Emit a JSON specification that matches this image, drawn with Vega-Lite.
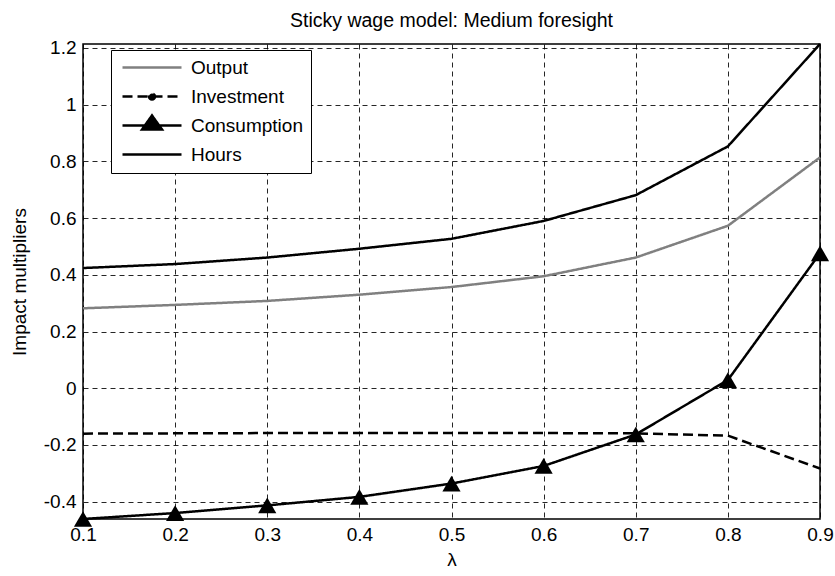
{
  "$schema": "https://vega.github.io/schema/vega-lite/v6.json",
  "width": 737,
  "height": 475,
  "autosize": {"type": "none"},
  "padding": {"left": 83, "top": 44, "right": 15, "bottom": 57},
  "background": "white",
  "title": {"text": "Sticky wage model: Medium foresight", "fontSize": 19.5, "fontWeight": "normal", "font": "Liberation Sans", "color": "black", "anchor": "middle", "frame": "group", "baseline": "alphabetic", "offset": -8},
  "config": {
    "view": {"stroke": "black", "strokeWidth": 1.5},
    "font": "Liberation Sans",
    "axis": {"labelFont": "Liberation Sans", "titleFont": "Liberation Sans", "labelFontSize": 19, "titleFontSize": 19, "titleFontWeight": "normal", "labelColor": "black", "titleColor": "black", "domain": false, "ticks": false, "grid": true, "gridColor": "#000", "gridDash": [5, 4], "gridWidth": 1, "gridOpacity": 0.85}
  },
  "data": {
    "values": [
      {"lambda": 0.1, "series": "Output", "value": 0.282},
      {"lambda": 0.2, "series": "Output", "value": 0.294},
      {"lambda": 0.3, "series": "Output", "value": 0.308},
      {"lambda": 0.4, "series": "Output", "value": 0.330},
      {"lambda": 0.5, "series": "Output", "value": 0.357},
      {"lambda": 0.6, "series": "Output", "value": 0.395},
      {"lambda": 0.7, "series": "Output", "value": 0.461},
      {"lambda": 0.8, "series": "Output", "value": 0.573},
      {"lambda": 0.9, "series": "Output", "value": 0.814},
      {"lambda": 0.1, "series": "Investment", "value": -0.160},
      {"lambda": 0.2, "series": "Investment", "value": -0.159},
      {"lambda": 0.3, "series": "Investment", "value": -0.158},
      {"lambda": 0.4, "series": "Investment", "value": -0.158},
      {"lambda": 0.5, "series": "Investment", "value": -0.158},
      {"lambda": 0.6, "series": "Investment", "value": -0.158},
      {"lambda": 0.7, "series": "Investment", "value": -0.159},
      {"lambda": 0.8, "series": "Investment", "value": -0.167},
      {"lambda": 0.9, "series": "Investment", "value": -0.283},
      {"lambda": 0.1, "series": "Consumption", "value": -0.461},
      {"lambda": 0.2, "series": "Consumption", "value": -0.440},
      {"lambda": 0.3, "series": "Consumption", "value": -0.413},
      {"lambda": 0.4, "series": "Consumption", "value": -0.383},
      {"lambda": 0.5, "series": "Consumption", "value": -0.336},
      {"lambda": 0.6, "series": "Consumption", "value": -0.274},
      {"lambda": 0.7, "series": "Consumption", "value": -0.163},
      {"lambda": 0.8, "series": "Consumption", "value": 0.029},
      {"lambda": 0.9, "series": "Consumption", "value": 0.476},
      {"lambda": 0.1, "series": "Hours", "value": 0.424},
      {"lambda": 0.2, "series": "Hours", "value": 0.438},
      {"lambda": 0.3, "series": "Hours", "value": 0.461},
      {"lambda": 0.4, "series": "Hours", "value": 0.492},
      {"lambda": 0.5, "series": "Hours", "value": 0.527},
      {"lambda": 0.6, "series": "Hours", "value": 0.590},
      {"lambda": 0.7, "series": "Hours", "value": 0.681},
      {"lambda": 0.8, "series": "Hours", "value": 0.853},
      {"lambda": 0.9, "series": "Hours", "value": 1.214}
    ]
  },
  "encoding": {
    "x": {"field": "lambda", "type": "quantitative", "title": "λ",
      "scale": {"domain": [0.1, 0.9], "nice": false, "zero": false},
      "axis": {"values": [0.1, 0.2, 0.3, 0.4, 0.5, 0.6, 0.7, 0.8, 0.9], "labelExpr": "'' + datum.value", "labelPadding": 6, "titlePadding": 6, "labelFlush": false}},
    "y": {"field": "value", "type": "quantitative", "title": "Impact multipliers",
      "scale": {"domain": [-0.461, 1.214], "nice": false, "zero": false},
      "axis": {"values": [-0.4, -0.2, 0, 0.2, 0.4, 0.6, 0.8, 1, 1.2], "labelExpr": "'' + datum.value", "labelPadding": 7, "titlePadding": 14, "labelFlush": false}}
  },
  "layer": [
    {
      "mark": {"type": "line", "strokeWidth": 2.5, "clip": false},
      "encoding": {
        "color": {"field": "series", "type": "nominal",
          "scale": {"domain": ["Output", "Investment", "Consumption", "Hours"], "range": ["#808080", "#000000", "#000000", "#000000"]},
          "legend": {"title": null, "orient": "none", "legendX": 28, "legendY": 6, "padding": 8, "rowPadding": 3, "strokeColor": "black", "fillColor": "white", "labelFontSize": 19, "labelFont": "Liberation Sans", "labelColor": "black", "symbolSize": 100, "symbolStrokeWidth": 2.5, "labelOffset": 53, "labelLimit": 300,
            "symbolType": "M4.7,-2M4.7,0.8M-1.2,0H10.6",
            "encode": {"symbols": {"update": {
              "shape": {"signal": "datum.value === 'Consumption' ? 'M-1.2,0H10.6M4.7,-2L6.7,0.8L2.7,0.8Z' : (datum.value === 'Investment' ? 'M4.7,-2M4.7,0.8M-1.2,0H10.6M5.3,0A0.6,0.6 0 1 1 4.1,0A0.6,0.6 0 1 1 5.3,0Z' : 'M4.7,-2M4.7,0.8M-1.2,0H10.6')"},
              "fill": {"signal": "datum.value === 'Consumption' || datum.value === 'Investment' ? 'black' : 'transparent'"},
              "fillOpacity": {"value": 1}
            }}}
          }},
        "strokeDash": {"field": "series", "type": "nominal",
          "scale": {"domain": ["Output", "Investment", "Consumption", "Hours"], "range": [[1, 0], [10, 5], [1, 0], [1, 0]]},
          "legend": {"title": null, "orient": "none", "legendX": 28, "legendY": 6}}
      }
    },
    {
      "transform": [{"filter": "datum.series === 'Consumption'"}],
      "mark": {"type": "point", "shape": "triangle-up", "filled": true, "color": "black", "opacity": 1, "size": 330, "clip": false}
    }
  ]
}
